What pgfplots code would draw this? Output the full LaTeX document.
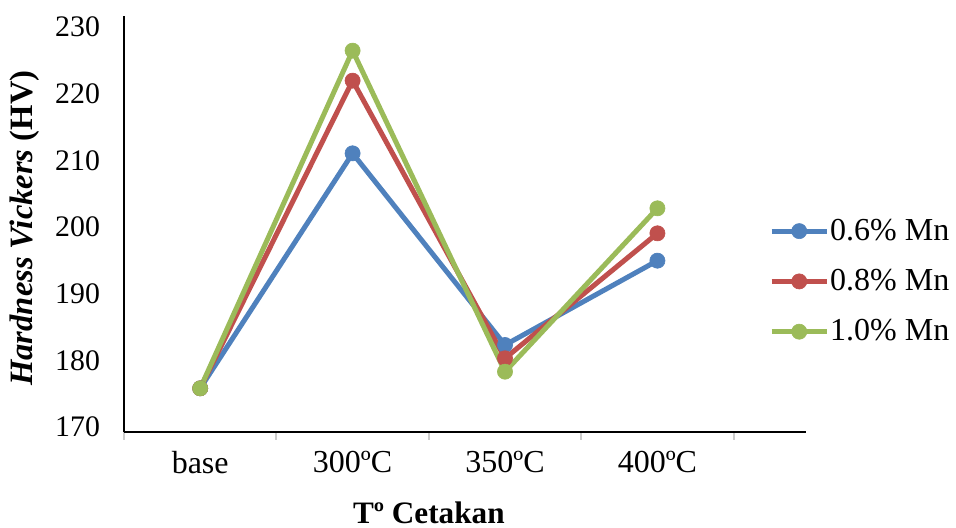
\documentclass[border=0pt]{standalone}
\usepackage{fontspec}
\setmainfont{Liberation Serif}
\usepackage{pgfplots}
\pgfplotsset{compat=1.18}
\definecolor{cblue}{HTML}{4F81BD}
\definecolor{cred}{HTML}{C0504D}
\definecolor{cgreen}{HTML}{9BBB59}
\begin{document}
\begin{tikzpicture}
\path[use as bounding box] (-62pt,-48pt) rectangle (416pt,216pt);
\begin{axis}[
  scale only axis, width=341pt, height=208pt,
  xmin=-0.5, xmax=3.975, ymin=170, ymax=232.4,
  axis x line*=bottom, axis y line*=left,
  axis line style={-, line width=1pt, black},
  xtick={0,1,2,3}, xticklabels={base,300ºC,350ºC,400ºC},
  minor xtick={-0.5,0.5,1.5,2.5,3.5},
  major tick length=0pt, minor tick length=4pt, tick align=outside,
  minor tick style={black!20, line width=1pt},
  ytick={170,180,...,230},
  /pgf/number format/assume math mode=true,
  yticklabel style={font=\fontsize{14.9}{17}\selectfont, xshift=-8.5pt, yshift=2.5pt},
  xticklabel style={font=\fontsize{16}{18}\selectfont, yshift=-6pt},
  xlabel={\textbf{Tº Cetakan}},
  xlabel style={at={(axis description cs:0.447,-0.195)}, anchor=center, font=\fontsize{15.6}{18}\selectfont},
  ylabel={\textbf{\textit{Hardness Vickers} (HV)}},
  ylabel style={at={(axis description cs:-0.1459,0.49)}, anchor=center, font=\fontsize{16.3}{18}\selectfont},
  legend style={draw=none, fill=none, at={(axis description cs:0.9455,0.362)}, anchor=west,
    font=\fontsize{16}{18}\selectfont, inner sep=0pt, row sep=12pt,
    nodes={inner sep=0.5pt}},
  legend cell align=left,
  legend image code/.code={\draw[mark repeat=2, mark phase=2, #1] plot coordinates {(0pt,0pt)(13.75pt,0pt)(27.5pt,0pt)};},
  every axis plot/.append style={line width=2.5pt, mark=*, mark size=3.8pt},
]
\addplot[cblue, mark options={fill=cblue, line width=0.3pt}] coordinates {(0,176.55) (1,211.8) (2,183.05) (3,195.7)};
\addlegendentry{0.6\% Mn}
\addplot[cred, mark options={fill=cred, line width=0.3pt}] coordinates {(0,176.55) (1,222.7) (2,181.05) (3,199.8)};
\addlegendentry{0.8\% Mn}
\addplot[cgreen, mark options={fill=cgreen, line width=0.3pt}] coordinates {(0,176.55) (1,227.2) (2,179.05) (3,203.55)};
\addlegendentry{1.0\% Mn}
\end{axis}
\end{tikzpicture}
\end{document}
